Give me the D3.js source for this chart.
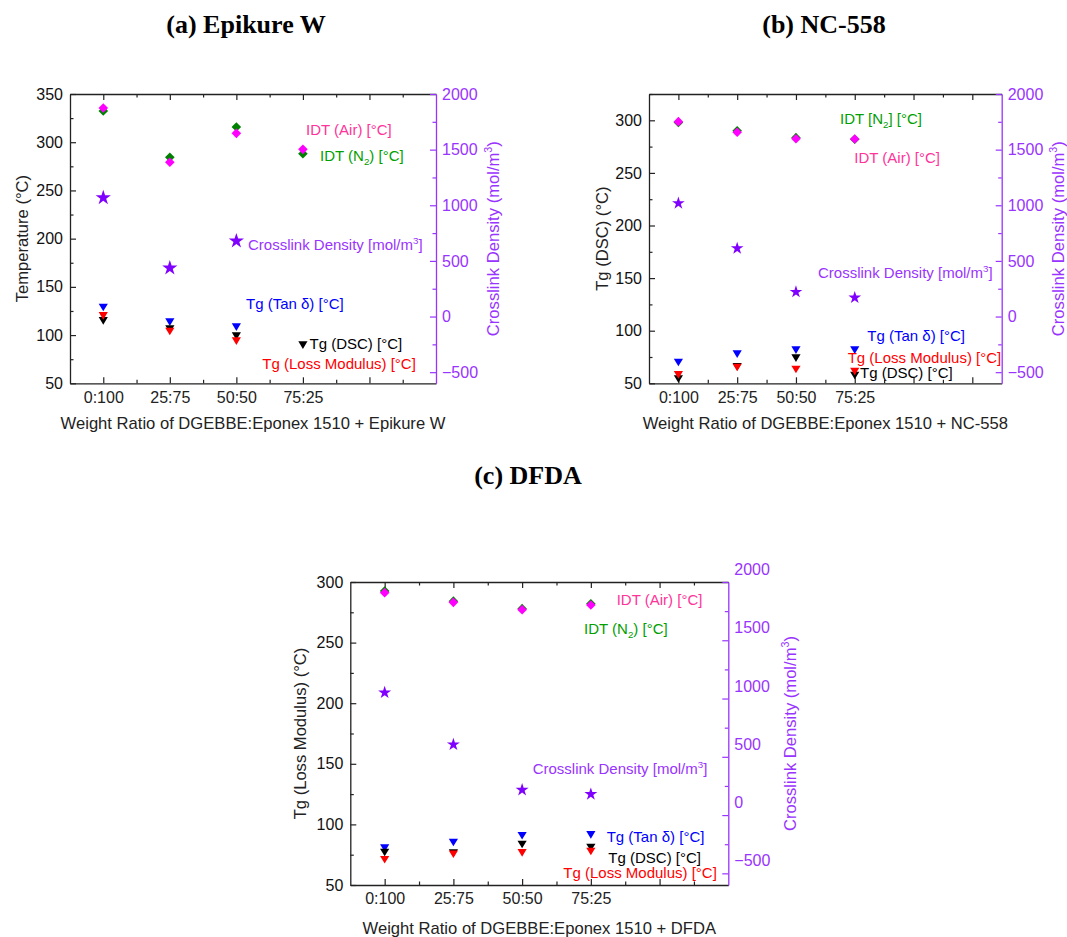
<!DOCTYPE html>
<html><head><meta charset="utf-8">
<script src="https://cdn.jsdelivr.net/npm/d3@7"></script>
<style>
body{margin:0;background:#fff;}
svg{display:block;font-family:"Liberation Sans",Arial,sans-serif;}
</style></head><body>
<svg id="chart" width="1067" height="937"></svg>
<script>
// ---------- data ----------
const categories = ["0:100", "25:75", "50:50", "75:25"];
const rightTicks = [-500, 0, 500, 1000, 1500, 2000];
const rightMinor = [-250, 250, 750, 1250, 1750];

// (a) Epikure W
const aLeftTicks = [50, 100, 150, 200, 250, 300, 350];
const aIdtAir = [335.5, 279.2, 309.2, 292.6];
const aIdtN2  = [332.4, 284.3, 315.8, 288.0];
const aXlink  = [1068, 436, 679, null];
const aTgTan  = [129.5, 114.3, 109.1, null];
const aTgDSC  = [115.6, 107.0, 99.7, 90.4];
const aTgLoss = [120.8, 104.6, 94.6, null];

// (b) NC-558
const bLeftTicks = [50, 100, 150, 200, 250, 300];
const bIdtAir = [298.7, 288.6, 282.5, 282.2];
const bIdtN2  = [298.0, 290.1, 283.5, 282.0];
const bXlink  = [1018, 613, 221, 170];
const bTgTan  = [70.6, 78.5, 82.3, 82.3];
const bTgDSC  = [54.8, 66.4, 74.7, 58.2];
const bTgLoss = [58.8, 65.8, 63.9, 62.0];

// (c) DFDA
const cLeftTicks = [50, 100, 150, 200, 250, 300];
const cIdtAir = [291.2, 283.2, 277.2, 281.0];
const cIdtN2  = [292.6, 284.2, 278.0, 282.0];
const cXlink  = [1051, 605, 216, 179];
const cTgTan  = [81.1, 85.7, 91.3, 92.0];
const cTgDSC  = [77.5, 77.0, 84.1, 81.6];
const cTgLoss = [71.5, 76.0, 77.2, 78.3];

// ---------- styles ----------
const C = {
  n2: "#008000", air: "#ff00ff", star: "#8000ff", tan: "#0000ff", dsc: "#000000", loss: "#ff0000",
  airText: "#ff3399", n2Text: "#00a000", purple: "#9933ff", tanText: "#0000ff", lossText: "#ff0000"
};
const svg = d3.select("#chart");

function addText(g, parts, x, y, color, size, opts = {}) {
  const t = g.append("text").attr("x", x).attr("y", y).attr("fill", color)
    .attr("font-size", size).attr("dy", opts.dy || "0.35em");
  if (opts.anchor) t.attr("text-anchor", opts.anchor);
  if (opts.transform) t.attr("transform", opts.transform);
  parts.forEach(pt => {
    const s = t.append("tspan").text(pt[0]);
    if (pt[1] === "sup") { s.attr("font-size", size * 0.65).attr("dy", -size * 0.4); }
    else if (pt[1] === "sub") { s.attr("font-size", size * 0.65).attr("dy", size * 0.25); }
    else if (pt[1] === "back-sup") { s.attr("dy", size * 0.4); }
    else if (pt[1] === "back-sub") { s.attr("dy", -size * 0.25); }
  });
  return t;
}

function panel(p) {
  const g = svg.append("g");
  const x = d3.scaleLinear().domain(p.xDomain).range([p.left, p.right]);
  const y = d3.scaleLinear().domain(p.yDomain).range([p.bottom, p.top]);
  const yr = d3.scaleLinear().domain([-600, 2000]).range([p.bottom, p.top]);

  const major = d3.range(0, p.xDomain[1] - 0.01, 1);
  const minor = d3.range(0.5, p.xDomain[1] - 0.01, 1);
  const leftMinor = p.leftTicks.slice(0, -1).map(v => v + 25).filter(v => v < p.yDomain[1]);
  if (p.yDomain[1] - p.leftTicks[p.leftTicks.length - 1] > 20) leftMinor.push(p.leftTicks[p.leftTicks.length - 1] + 25);

  const style = (sel, color) => {
    sel.selectAll("path.domain").attr("stroke", color).attr("stroke-width", 1.3);
    sel.selectAll(".tick line").attr("stroke", color).attr("stroke-width", 1.2);
    sel.selectAll(".tick text").attr("fill", color).attr("font-size", 16)
      .attr("font-family", "Liberation Sans, Arial, sans-serif");
    sel.attr("font-family", "Liberation Sans, Arial, sans-serif");
  };

  // bottom
  const bx = g.append("g").attr("transform", `translate(0,${p.bottom})`)
    .call(d3.axisBottom(x).tickValues(major).tickSize(-6).tickSizeOuter(0).tickPadding(8)
      .tickFormat(i => categories[i] || ""));
  style(bx, "#222");
  const bxm = g.append("g").attr("transform", `translate(0,${p.bottom})`)
    .call(d3.axisBottom(x).tickValues(minor).tickSize(-3.5).tickFormat(""));
  bxm.select("path.domain").remove(); style(bxm, "#222");
  // top
  const tx = g.append("g").attr("transform", `translate(0,${p.top})`)
    .call(d3.axisTop(x).tickValues(major).tickSize(-6).tickSizeOuter(0).tickFormat(""));
  style(tx, "#222");
  const txm = g.append("g").attr("transform", `translate(0,${p.top})`)
    .call(d3.axisTop(x).tickValues(minor).tickSize(-3.5).tickFormat(""));
  txm.select("path.domain").remove(); style(txm, "#222");
  // left
  const ly = g.append("g").attr("transform", `translate(${p.left},0)`)
    .call(d3.axisLeft(y).tickValues(p.leftTicks).tickSize(-6).tickSizeOuter(0).tickPadding(7));
  style(ly, "#222");
  ly.selectAll(".tick text").attr("fill", "#111");
  const lym = g.append("g").attr("transform", `translate(${p.left},0)`)
    .call(d3.axisLeft(y).tickValues(leftMinor).tickSize(-3.5).tickFormat(""));
  lym.select("path.domain").remove(); style(lym, "#222");
  // right
  const ry = g.append("g").attr("transform", `translate(${p.right},0)`)
    .call(d3.axisRight(yr).tickValues(rightTicks).tickSize(-6).tickSizeOuter(0).tickPadding(6)
      .tickFormat(d => d < 0 ? "\u2212" + Math.abs(d) : String(d)));
  style(ry, C.purple);
  ry.selectAll(".tick text").attr("transform", `translate(0,${p.rightLabelShift || 0})`);
  const rym = g.append("g").attr("transform", `translate(${p.right},0)`)
    .call(d3.axisRight(yr).tickValues(rightMinor).tickSize(-3.5).tickFormat(""));
  rym.select("path.domain").remove(); style(rym, C.purple);

  // axis titles
  const midY = (p.top + p.bottom) / 2;
  addText(g, [[p.xTitle]], (p.left + p.right) / 2, p.bottom + p.xTitleOff, "#222", 16.6, { anchor: "middle" });
  addText(g, [[p.yTitle]], 0, 0, "#222", 16.6, { anchor: "middle",
    transform: `translate(${p.left - p.yTitleOff},${midY}) rotate(-90)` });
  addText(g, [["Crosslink Density (mol/m"], ["3", "sup"], [")", "back-sup"]], 0, 0, C.purple, 16.6,
    { anchor: "middle", transform: `translate(${p.right + p.rTitleOff},${midY}) rotate(-90)` });

  // markers
  const diamond = "M0,-4.8L4.8,0L0,4.8L-4.8,0Z";
  const tri = "M-4.6,-3L4.6,-3L0,4.6Z";
  const star = d3.symbol(d3.symbolStar, p.starSize)();
  const plot = (vals, scale, path, color) => {
    g.append("g").selectAll("path").data(vals.map((v, i) => [i, v]).filter(d => d[1] != null))
      .join("path").attr("d", path).attr("fill", color)
      .attr("transform", d => `translate(${x(d[0])},${scale(d[1])})`);
  };
  plot(p.n2, y, diamond, C.n2);
  plot(p.air, y, diamond, C.air);
  plot(p.xlink, yr, star, C.star);
  plot(p.tan, y, tri, C.tan);
  plot(p.dsc, y, tri, C.dsc);
  plot(p.loss, y, tri, C.loss);

  // annotations
  p.labels.forEach(l => addText(g, l.parts, l.x, l.y, l.color, 15));

  // panel title
  svg.append("text").attr("x", p.titleX).attr("y", p.titleY).attr("text-anchor", "middle")
    .attr("font-family", "Liberation Serif, 'Times New Roman', serif").attr("font-weight", "bold")
    .attr("font-size", 26).attr("fill", "#000").text(p.title);
}

const airParts = [["IDT (Air) [°C]"]];
const n2Parts = [["IDT (N"], ["2", "sub"], [") [°C]", "back-sub"]];
const xlParts = [["Crosslink Density [mol/m"], ["3", "sup"], ["]", "back-sup"]];
const tanParts = [["Tg (Tan δ) [°C]"]];
const dscParts = [["Tg (DSC) [°C]"]];
const lossParts = [["Tg (Loss Modulus) [°C]"]];

panel({
  title: "(a) Epikure W", titleX: 246, titleY: 33,
  left: 70, right: 436, top: 94, bottom: 383.3,
  xDomain: [-0.5, 5], yDomain: [50, 350], leftTicks: aLeftTicks,
  xTitle: "Weight Ratio of DGEBBE:Eponex 1510 + Epikure W", xTitleOff: 40,
  yTitle: "Temperature (°C)", yTitleOff: 48, rTitleOff: 57, starSize: 72,
  n2: aIdtN2, air: aIdtAir, xlink: aXlink, tan: aTgTan, dsc: aTgDSC, loss: aTgLoss,
  labels: [
    { parts: airParts, x: 306, y: 130, color: C.airText },
    { parts: n2Parts, x: 320, y: 156, color: C.n2Text },
    { parts: xlParts, x: 248, y: 244.7, color: C.purple },
    { parts: tanParts, x: 246, y: 304, color: C.tanText },
    { parts: dscParts, x: 309.5, y: 343.3, color: "#000" },
    { parts: lossParts, x: 262.3, y: 363.3, color: C.lossText }
  ]
});

panel({
  title: "(b) NC-558", titleX: 824, titleY: 33,
  left: 649, right: 1001.7, top: 94, bottom: 383.3,
  xDomain: [-0.5, 5.5], yDomain: [50, 325], leftTicks: bLeftTicks,
  xTitle: "Weight Ratio of DGEBBE:Eponex 1510 + NC-558", xTitleOff: 40,
  yTitle: "Tg (DSC) (°C)", yTitleOff: 47.3, rTitleOff: 56.6, starSize: 50,
  n2: bIdtN2, air: bIdtAir, xlink: bXlink, tan: bTgTan, dsc: bTgDSC, loss: bTgLoss,
  labels: [
    { parts: [["IDT [N"], ["2", "sub"], ["] [°C]", "back-sub"]], x: 840, y: 119, color: C.n2Text },
    { parts: airParts, x: 854.3, y: 157.3, color: C.airText },
    { parts: xlParts, x: 818, y: 272.7, color: C.purple },
    { parts: tanParts, x: 867.3, y: 336, color: C.tanText },
    { parts: lossParts, x: 847.7, y: 358, color: C.lossText },
    { parts: dscParts, x: 860, y: 373, color: "#000" }
  ]
});

panel({
  title: "(c) DFDA", titleX: 528, titleY: 484,
  left: 350.3, right: 728.3, top: 582, bottom: 885,
  xDomain: [-0.5, 5], yDomain: [50, 300], leftTicks: cLeftTicks, rightLabelShift: -12.5,
  xTitle: "Weight Ratio of DGEBBE:Eponex 1510 + DFDA", xTitleOff: 43.3,
  yTitle: "Tg (Loss Modulus) (°C)", yTitleOff: 50, rTitleOff: 61.7, starSize: 52,
  n2: cIdtN2, air: cIdtAir, xlink: cXlink, tan: cTgTan, dsc: cTgDSC, loss: cTgLoss,
  labels: [
    { parts: airParts, x: 616.7, y: 600, color: C.airText },
    { parts: n2Parts, x: 584, y: 629, color: C.n2Text },
    { parts: xlParts, x: 532.7, y: 768.7, color: C.purple },
    { parts: tanParts, x: 606.7, y: 836.7, color: C.tanText },
    { parts: dscParts, x: 608.3, y: 857.7, color: "#000" },
    { parts: lossParts, x: 563.3, y: 872.7, color: C.lossText }
  ]
});
</script>
</body></html>
